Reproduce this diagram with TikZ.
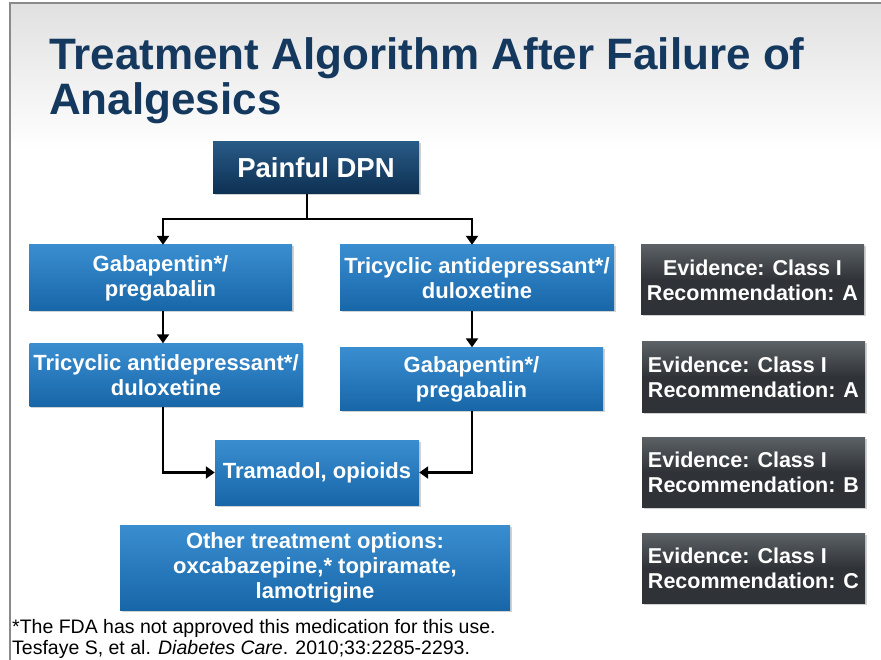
\documentclass[tikz,border=0pt]{standalone}
\usepackage{fontspec}
\setmainfont{Liberation Sans}
\usetikzlibrary{arrows.meta,shadows}
\definecolor{titleblue}{HTML}{15395E}
\definecolor{bluetop}{HTML}{3A8ED0}
\definecolor{bluebot}{HTML}{1766A8}
\definecolor{navytop}{HTML}{285A86}
\definecolor{navybot}{HTML}{0D3052}
\definecolor{greytop}{HTML}{5C6166}
\definecolor{greybot}{HTML}{2F3337}
\definecolor{framegrey}{HTML}{8A8A8A}
\begin{document}
\begin{tikzpicture}[x=1pt,y=-1pt,
  boxbase/.style={draw=none, text=white, align=center, inner sep=0pt,
    drop shadow={opacity=0.35, shadow xshift=1.5pt, shadow yshift=-1.5pt}},
  bluebox/.style={boxbase, top color=bluetop, bottom color=bluebot,
    font=\bfseries\fontsize{22}{25}\selectfont},
  navybox/.style={boxbase, top color=navytop, bottom color=navybot,
    font=\bfseries\fontsize{27.5}{30}\selectfont},
  evbox/.style={boxbase, top color=greytop, bottom color=greybot, middle color=greybot,
    font=\bfseries\fontsize{21.5}{25}\selectfont, minimum width=223pt, minimum height=70pt},
  conn/.style={line width=2.8pt, draw=black},
  arr/.style={conn, -{Triangle[width=12pt,length=9pt]}}]
\useasboundingbox (0,0) rectangle (881,660);
% background
\fill[white] (0,0) rectangle (881,660);
\shade[top color=black!12, bottom color=white] (10,3) rectangle (881,150);
\draw[framegrey, line width=1.5pt] (10,660) -- (10,3) -- (881,3);
% title
\node[anchor=base west, text=titleblue, font=\bfseries\fontsize{44}{45}\selectfont, inner sep=0pt] (t1) at (49,70) {Treatment Algorithm After Failure of};
\node[anchor=base west, text=titleblue, font=\bfseries\fontsize{44}{45}\selectfont, inner sep=0pt] (t2) at (49,115) {Analgesics};
% boxes
\node[navybox, minimum width=206pt, minimum height=52pt] (dpn) at (316,168) {Painful DPN};
\node[bluebox, minimum width=263pt, minimum height=66pt] (l1) at (160.5,278) {Gabapentin*/\\pregabalin};
\node[bluebox, minimum width=274pt, minimum height=66pt] (r1) at (477,278) {Tricyclic antidepressant*/\\duloxetine};
\node[bluebox, minimum width=273pt, minimum height=63pt] (l2) at (166,375) {Tricyclic antidepressant*/\\duloxetine};
\node[bluebox, minimum width=263pt, minimum height=63pt] (r2) at (471.5,379) {Gabapentin*/\\pregabalin};
\node[bluebox, minimum width=204pt, minimum height=65pt] (tram) at (317,472.5) {Tramadol, opioids};
\node[bluebox, minimum width=390pt, minimum height=85pt] (other) at (315,567.5) {Other treatment options:\\oxcabazepine,* topiramate,\\lamotrigine};
% evidence boxes
\node[evbox] (e1) at (752.5,280) {Evidence: Class I\\Recommendation: A};
\node[evbox, align=left] (e2) at (753.5,377) {Evidence: Class I\\Recommendation: A};
\node[evbox, align=left] (e3) at (753.5,472) {Evidence: Class I\\Recommendation: B};
\node[evbox, align=left] (e4) at (753.5,568) {Evidence: Class I\\Recommendation: C};
% connectors
\coordinate (split) at (307,219);
\coordinate (splitL) at (163,219);
\coordinate (splitR) at (472,219);
\draw[conn] (dpn.south -| split) -- (split);
\draw[conn, line cap=rect] (splitL) -- (splitR);
\draw[arr] (splitL) -- (splitL |- l1.north);
\draw[arr] (splitR) -- (splitR |- r1.north);
\draw[arr] (l1.south -| splitL) -- (l2.north -| splitL);
\draw[arr] (r1.south -| splitR) -- (r2.north -| splitR);
\draw[arr] (l2.south -| splitL) |- (tram.west);
\draw[arr] (r2.south -| splitR) |- (tram.east);
% footnotes
\node[anchor=base west, inner sep=0pt, font=\fontsize{19.5}{21}\selectfont] (f1) at (12,633) {*The FDA has not approved this medication for this use.};
\node[anchor=base west, inner sep=0pt, font=\fontsize{19.5}{21}\selectfont] (f2) at (12,654) {Tesfaye S, et al. \textit{Diabetes Care}. 2010;33:2285-2293.};
\end{tikzpicture}
\end{document}
